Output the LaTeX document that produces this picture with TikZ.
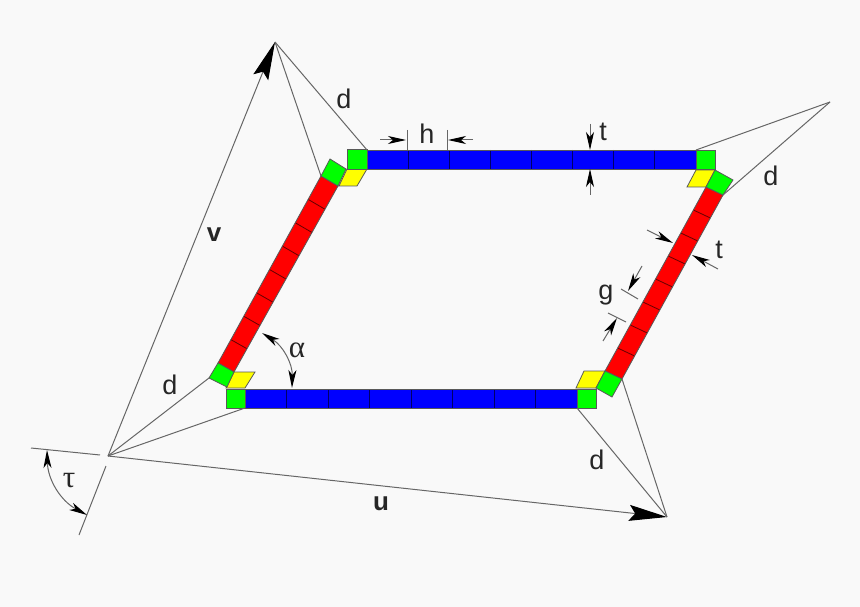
\documentclass[tikz,border=0pt]{standalone}
\usepackage{fontspec}
\setmainfont{Liberation Sans}
\newfontfamily\greekfont{Liberation Serif}
\usetikzlibrary{arrows.meta,calc,positioning}
\definecolor{pagegray}{HTML}{F9F9F9}
\definecolor{barblue}{RGB}{0,0,255}
\definecolor{barred}{RGB}{255,0,0}
\definecolor{cornergreen}{RGB}{0,255,0}
\definecolor{corneryellow}{RGB}{255,255,0}
\tikzset{
  thinline/.style={line width=1pt,draw=black!60},
  block/.style={line width=0.8pt,draw=black!65},
  bigarrow/.style={thinline,-{Stealth[length=38pt,width=16pt,inset=6pt,color=black]}},
  dimarrow/.style={thinline,-{Stealth[length=18pt,width=8pt,inset=5pt,color=black]}},
  bothdim/.style={thinline,{Stealth[length=18pt,width=8pt,inset=5pt,color=black]}-{Stealth[length=18pt,width=8pt,inset=5pt,color=black]}},
  lab/.style={inner sep=0pt,font=\fontsize{27}{29}\selectfont,text=black!85},
  boldlab/.style={lab,font=\fontsize{26}{28}\selectfont\bfseries},
  greeklab/.style={lab,font=\fontsize{31}{33}\selectfont\greekfont}
}
\newcommand{\segbar}[5]{
  \fill[#5] (#1) -- (#2) -- (#3) -- (#4) -- cycle;
  \foreach \k in {1,...,7}
    \draw[line width=0.8pt,black!60!#5] ($(#1)!\k/8!(#2)$) -- ($(#4)!\k/8!(#3)$);
  \draw[block] (#1) -- (#2) -- (#3) -- (#4) -- cycle;
}
\begin{document}
\begin{tikzpicture}[x=1pt,y=-1pt]
\useasboundingbox[fill=pagegray] (0,0) rectangle (860,607);

\coordinate (orig) at (108,456);
\coordinate (vend) at (275,42);
\coordinate (uend) at (667,517);
\coordinate (dend) at (830,102);

\coordinate (topa) at (367,150);
\coordinate (topb) at (696,150);
\coordinate (topc) at (696,169);
\coordinate (topd) at (367,169);
\coordinate (bota) at (245,389);
\coordinate (botb) at (577,389);
\coordinate (botc) at (577,408);
\coordinate (botd) at (245,408);
\coordinate (lfta) at (218,363);
\coordinate (lftb) at (321,176);
\coordinate (lftc) at (338,186);
\coordinate (lftd) at (234,372);
\coordinate (rgta) at (605,371);
\coordinate (rgtb) at (706,187);
\coordinate (rgtc) at (723,195);
\coordinate (rgtd) at (622,379);

\segbar{topa}{topb}{topc}{topd}{barblue}
\segbar{bota}{botb}{botc}{botd}{barblue}
\segbar{lfta}{lftb}{lftc}{lftd}{barred}
\segbar{rgta}{rgtb}{rgtc}{rgtd}{barred}

\draw[block,fill=corneryellow] (339,186) -- (347,169) -- (367,169) -- (357,186) -- cycle;
\draw[block,fill=corneryellow] (687,187) -- (696,170) -- (715,170) -- (706,187) -- cycle;
\draw[block,fill=corneryellow] (226,388) -- (234,372) -- (255,372) -- (245,388) -- cycle;
\draw[block,fill=corneryellow] (576,388) -- (584,371) -- (605,371) -- (596,388) -- cycle;

\draw[block,fill=cornergreen] (347,149) rectangle (topd);
\draw[block,fill=cornergreen] (topb) rectangle (715,169);
\draw[block,fill=cornergreen] (226,389) rectangle (botd);
\draw[block,fill=cornergreen] (botb) rectangle (596,408);
\draw[block,fill=cornergreen] (lftb) -- (330,159) -- (346,169) -- (lftc) -- cycle;
\draw[block,fill=cornergreen] (rgtb) -- (715,170) -- (733,180) -- (rgtc) -- cycle;
\draw[block,fill=cornergreen] (lfta) -- (lftd) -- (227,387) -- (209,378) -- cycle;
\draw[block,fill=cornergreen] (rgta) -- (rgtd) -- (612,397) -- (596,388) -- cycle;

\draw[bigarrow] (orig) -- (vend);
\draw[bigarrow] (orig) -- (uend);
\draw[thinline] (vend) -- (lftb);
\draw[thinline] (vend) -- (topa);
\draw[thinline] (dend) -- (topb);
\draw[thinline] (dend) -- (rgtc);
\draw[thinline] (uend) -- (botc);
\draw[thinline] (uend) -- (rgtd);
\draw[thinline] (orig) -- (209,378);
\draw[thinline] (orig) -- (botd);

\draw[thinline] (407,130) -- (407,150);
\draw[thinline] (447,130) -- (447,150);
\draw[dimarrow] (380,140) -- (406,140);
\draw[dimarrow] (473,140) -- (448,140);
\draw[dimarrow] (590,124) -- (590,150);
\draw[dimarrow] (590,195) -- (590,169);
\draw[dimarrow] (647,230) -- (673,243);
\draw[dimarrow] (718,269) -- (692,255);
\draw[thinline] (621,289) -- (638,299);
\draw[thinline] (608,313) -- (626,322);
\draw[dimarrow] (642,266) -- (628,291);
\draw[dimarrow] (603,341) -- (617,318);

\draw[thinline] (31,448) -- (100,455);
\draw[thinline] (106,466) -- (79,535);
\draw[bothdim] (47,450) to[bend right=30] (87,515);
\draw[bothdim] (262,333) to[bend left=30] (292,388);

\node[lab] (dv) at (344,99) {d};
\node[lab] (hh) at (427,134) {h};
\node[lab] (ta) at (603,132) {t};
\node[lab] (dr) at (771,176) {d};
\node[lab] (tb) at (719,250) {t};
\node[lab] (gg) at (606,295) {g};
\node[greeklab] (al) at (297,350) {α};
\node[boldlab] (vv) at (214,235) {v};
\node[lab] (dl) at (170,385) {d};
\node[lab] (db) at (597,460) {d};
\node[boldlab] (uu) at (381,504) {u};
\node[greeklab] (tau) at (69,481) {τ};
\end{tikzpicture}
\end{document}
